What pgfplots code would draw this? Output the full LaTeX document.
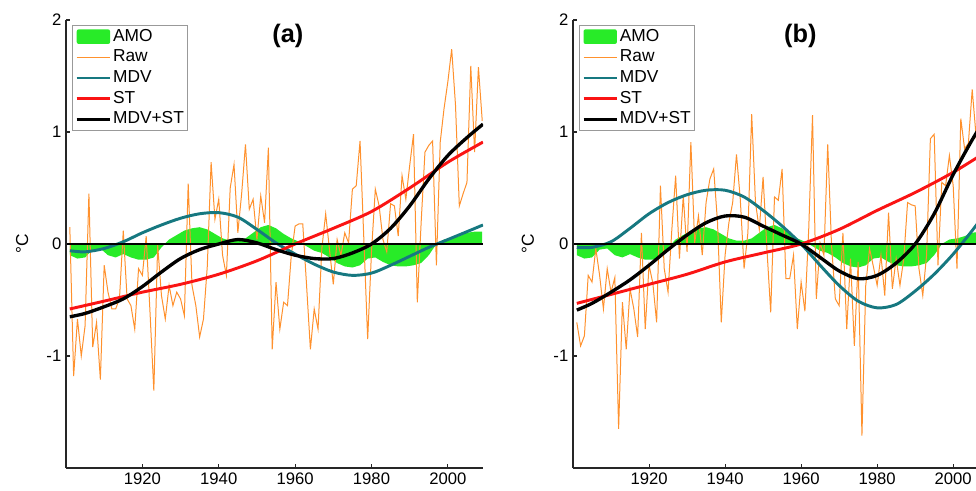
\documentclass[border=0pt]{standalone}
\usepackage{fontspec}
\setmainfont{Liberation Sans}
\usepackage{pgfplots}
\pgfplotsset{compat=1.18}
\usepackage{pgfplotstable}

\definecolor{amo}{RGB}{40,235,40}
\definecolor{rawc}{RGB}{255,145,45}
\definecolor{mdv}{RGB}{22,120,128}
\definecolor{stc}{RGB}{250,20,20}

\pgfplotstableread{
year val
1901 -0.10
1903 -0.13
1905 -0.12
1907 -0.05
1909 -0.04
1911 -0.10
1913 -0.12
1915 -0.09
1917 -0.12
1919 -0.14
1921 -0.14
1923 -0.12
1925 -0.03
1927 0.04
1929 0.08
1931 0.12
1933 0.14
1935 0.15
1937 0.13
1939 0.09
1941 0.05
1943 0.03
1945 0.03
1947 0.05
1949 0.10
1951 0.15
1953 0.17
1955 0.14
1957 0.09
1959 0.05
1961 0.02
1963 -0.02
1965 -0.06
1967 -0.08
1969 -0.12
1971 -0.17
1973 -0.20
1975 -0.21
1977 -0.19
1979 -0.13
1981 -0.12
1983 -0.16
1985 -0.19
1987 -0.20
1989 -0.20
1991 -0.19
1993 -0.17
1995 -0.10
1997 0.00
1999 0.04
2001 0.05
2003 0.07
2005 0.10
2007 0.11
2009 0.11
}\amo

\pgfplotstableread{
year val
1901 0.15
1902 -1.18
1903 -0.67
1904 -1.00
1905 -0.73
1906 0.45
1907 -0.92
1908 -0.70
1909 -1.21
1910 -0.19
1911 -0.43
1912 -0.58
1913 -0.58
1914 -0.49
1915 0.12
1916 -0.49
1917 -0.55
1918 -0.76
1919 -0.22
1920 -0.28
1921 0.07
1922 -0.61
1923 -1.31
1924 -0.01
1925 -0.46
1926 -0.67
1927 -0.37
1928 -0.55
1929 -0.43
1930 -0.49
1931 -0.64
1932 0.54
1933 -0.37
1934 -0.55
1935 -0.83
1936 -0.67
1937 -0.20
1938 0.73
1939 0.22
1940 0.40
1941 -0.10
1942 -0.28
1943 0.50
1944 0.71
1945 0.10
1946 0.45
1947 0.89
1948 0.31
1949 0.40
1950 0.04
1951 0.43
1952 0.19
1953 0.86
1954 -0.94
1955 -0.34
1956 -0.76
1957 -0.52
1958 -0.55
1959 -0.10
1960 0.16
1961 0.18
1962 0.18
1963 -0.37
1964 -0.94
1965 -0.58
1966 -0.76
1967 -0.04
1968 0.27
1969 -0.05
1970 -0.36
1971 0.04
1972 -0.10
1973 0.10
1974 0.01
1975 0.49
1976 0.52
1977 0.92
1978 0.04
1979 -0.85
1980 -0.07
1981 0.49
1982 0.34
1983 0.04
1984 -0.07
1985 0.36
1986 0.34
1987 0.07
1988 0.61
1989 0.40
1990 0.70
1991 0.98
1992 -0.52
1993 0.19
1994 0.82
1995 0.88
1996 0.92
1997 -0.19
1998 0.91
1999 1.21
2000 1.45
2001 1.74
2002 1.24
2003 0.34
2004 0.45
2005 0.55
2006 1.59
2007 0.82
2008 1.58
2009 1.10
}\rawa

\pgfplotstableread{
year val
1901 -0.70
1902 -0.91
1903 -0.82
1904 -0.28
1905 -0.34
1906 -0.04
1907 -0.28
1908 -0.58
1909 -0.22
1910 -0.43
1911 -0.30
1912 -1.65
1913 -0.52
1914 -0.94
1915 -0.40
1916 -0.58
1917 -0.83
1918 0.10
1919 -0.76
1920 -0.19
1921 -0.35
1922 -0.70
1923 0.52
1924 -0.22
1925 -0.43
1926 0.13
1927 0.61
1928 -0.13
1929 0.43
1930 -0.07
1931 0.91
1932 0.01
1933 0.25
1934 -0.10
1935 0.37
1936 0.58
1937 0.67
1938 0.20
1939 -0.70
1940 -0.10
1941 0.19
1942 0.37
1943 0.80
1944 0.40
1945 -0.22
1946 0.10
1947 1.16
1948 0.37
1949 0.13
1950 0.60
1951 -0.04
1952 -0.61
1953 0.42
1954 0.39
1955 0.67
1956 -0.31
1957 -0.31
1958 -0.10
1959 -0.76
1960 -0.34
1961 -0.60
1962 0.13
1963 1.15
1964 -0.49
1965 0.01
1966 -0.10
1967 0.89
1968 -0.01
1969 -0.49
1970 -0.55
1971 0.10
1972 -0.76
1973 -0.13
1974 -0.91
1975 -0.16
1976 -1.71
1977 -0.37
1978 -0.04
1979 -0.20
1980 -0.37
1981 -0.10
1982 -0.46
1983 0.28
1984 -0.40
1985 -0.13
1986 -0.37
1987 -0.13
1988 0.37
1989 0.35
1990 0.34
1991 -0.22
1992 -0.46
1993 -0.10
1994 0.94
1995 0.98
1996 -0.19
1997 0.55
1998 0.52
1999 0.79
2000 0.52
2001 -0.22
2002 1.12
2003 0.85
2004 0.90
2005 1.38
2006 0.97
2007 1.20
2008 1.10
2009 1.25
}\rawb

\pgfplotsset{
  panel/.style={
    scale only axis, height=336pt,
    ymin=-2, ymax=2, xmin=1900,
    axis x line*=bottom, axis y line*=left,
    x axis line style={-}, y axis line style={-},
    axis line style={line width=1pt, black!85},
    ytick={-1,0,1,2}, xtick={1920,1940,1960,1980,2000},
    tick align=inside, major tick length=3pt,
    tick style={line width=0.8pt, black!85},
    /pgf/number format/assume math mode=true,
    xticklabel style={/pgf/number format/1000 sep={}},
    tick label style={font=\fontsize{12.5}{14}\selectfont},
    clip mode=individual,
    legend cell align=left,
    legend style={at={(0.0144,0.989)}, anchor=north west,
      draw=black!40, line width=0.6pt, fill=white,
      font=\fontsize{13}{15}\selectfont,
      inner xsep=2pt, inner ysep=1pt, row sep=0.5pt,
      nodes={inner xsep=1pt, inner ysep=1.5pt, text height=9.5pt, text depth=2.5pt}},
    legend image code/.code={\draw[#1] (0pt,0pt) -- (25pt,0pt);},
    every axis y label/.style={rotate=90, anchor=center, font=\fontsize{13}{15}\selectfont},
  },
  amostyle/.style={fill=amo, draw=none,
    legend image code/.code={\fill[amo, rounded corners=1.5pt] (0pt,-5.5pt) rectangle (25pt,5.5pt);}},
  rawstyle/.style={rawc, line width=0.75pt},
  mdvstyle/.style={mdv, line width=2.2pt, smooth},
  ststyle/.style={stc, line width=2.2pt, smooth},
  sumstyle/.style={black, line width=2.5pt, smooth},
}

\begin{document}
\begin{tikzpicture}
% ---------------- panel (a)
\begin{axis}[panel, at={(49.5pt,16.5pt)}, anchor=south west,
  width=312.75pt, xmax=2009.2,
  ylabel={°C}, ylabel style={at={(axis description cs:-0.105,0.5)}}]
\addplot[amostyle] table[x=year,y=val]{\amo} \closedcycle;
\addlegendentry{AMO}
\addplot[rawstyle] table[x=year,y=val]{\rawa};
\addlegendentry{Raw}
\addplot[mdvstyle] coordinates {(1901,-0.06) (1905,-0.07) (1910,-0.04) (1915,0.02) (1920,0.10) (1925,0.17) (1930,0.23) (1935,0.27) (1940,0.28) (1945,0.24) (1950,0.13) (1955,0.01) (1960,-0.09) (1965,-0.18) (1970,-0.25) (1975,-0.28) (1980,-0.26) (1985,-0.19) (1990,-0.11) (1995,-0.03) (2000,0.04) (2005,0.11) (2009.2,0.17)};
\addlegendentry{MDV}
\addplot[ststyle] coordinates {(1901,-0.58) (1910,-0.51) (1920,-0.43) (1930,-0.36) (1940,-0.27) (1950,-0.15) (1960,0.0) (1970,0.14) (1980,0.29) (1990,0.50) (2000,0.73) (2009.2,0.91)};
\addlegendentry{ST}
\addplot[sumstyle] coordinates {(1901,-0.65) (1905,-0.62) (1910,-0.56) (1915,-0.49) (1920,-0.38) (1925,-0.25) (1930,-0.13) (1935,-0.05) (1940,0.0) (1945,0.04) (1950,0.01) (1955,-0.05) (1960,-0.10) (1965,-0.13) (1970,-0.13) (1975,-0.08) (1980,0.0) (1985,0.14) (1990,0.34) (1995,0.58) (2000,0.79) (2005,0.95) (2009.2,1.07)};
\addlegendentry{MDV+ST}
\addplot[black, line width=1.3pt, forget plot] coordinates {(1900.3,0) (2009.2,0)};
\node[font=\bfseries\fontsize{19}{22}\selectfont] at (axis description cs:0.532,0.965) {(a)};
\end{axis}
% ---------------- panel (b)
\begin{axis}[panel, at={(429.75pt,16.5pt)}, anchor=south west,
  width=302.25pt, xmax=2006,
  ylabel={°C}, ylabel style={at={(axis description cs:-0.112,0.5)}}]
\addplot[amostyle] table[x=year,y=val]{\amo} \closedcycle;
\addlegendentry{AMO}
\addplot[rawstyle] table[x=year,y=val]{\rawb};
\addlegendentry{Raw}
\addplot[mdvstyle] coordinates {(1901,-0.03) (1905,-0.03) (1910,0.02) (1915,0.14) (1920,0.27) (1925,0.37) (1930,0.44) (1935,0.48) (1940,0.48) (1945,0.42) (1950,0.30) (1955,0.16) (1960,0.0) (1965,-0.19) (1970,-0.37) (1975,-0.51) (1980,-0.57) (1985,-0.54) (1990,-0.42) (1995,-0.27) (2000,-0.09) (2005,0.12) (2009,0.30)};
\addlegendentry{MDV}
\addplot[ststyle] coordinates {(1901,-0.53) (1910,-0.45) (1920,-0.36) (1930,-0.27) (1940,-0.16) (1950,-0.08) (1960,0.0) (1970,0.13) (1980,0.30) (1990,0.46) (2000,0.64) (2009,0.83)};
\addlegendentry{ST}
\addplot[sumstyle] coordinates {(1901,-0.59) (1905,-0.53) (1910,-0.43) (1915,-0.32) (1920,-0.19) (1925,-0.05) (1930,0.08) (1935,0.19) (1940,0.25) (1945,0.24) (1950,0.16) (1955,0.08) (1960,0.0) (1965,-0.12) (1970,-0.24) (1975,-0.31) (1980,-0.28) (1985,-0.17) (1990,0.0) (1995,0.27) (2000,0.62) (2005,0.93) (2009,1.15)};
\addlegendentry{MDV+ST}
\addplot[black, line width=1.3pt, forget plot] coordinates {(1900.3,0) (2006,0)};
\node[font=\bfseries\fontsize{19}{22}\selectfont] at (axis description cs:0.564,0.965) {(b)};
\end{axis}
\pgfresetboundingbox
\path[use as bounding box] (0pt,0pt) rectangle (732pt,367.5pt);
\end{tikzpicture}
\end{document}
